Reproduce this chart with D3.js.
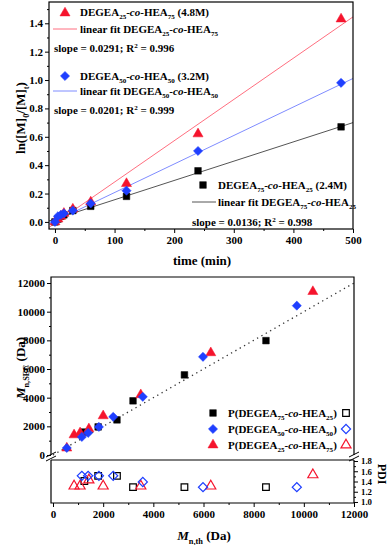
<!DOCTYPE html>
<html>
<head>
<meta charset="utf-8">
<title>Kinetics and molecular weight</title>
<script src="https://d3js.org/d3.v7.min.js"></script>
<style>
body { margin: 0; background: #fff; }
svg text { font-family: "Liberation Serif", "Times New Roman", serif; font-weight: bold; fill: #000; }
</style>
</head>
<body>
<script>
// ---- top chart data: ln([M]0/[M]t) vs time
var times = [0, 5, 10, 15, 30, 60, 120, 240, 480];
var lnRed = [0, 0.02, 0.04, 0.06, 0.09, 0.14, 0.27, 0.62, 1.43];
var lnBlue = [0, 0.04, 0.05, 0.06, 0.08, 0.13, 0.22, 0.50, 0.98];
var lnBlack = [0, 0.02, 0.04, 0.05, 0.08, 0.11, 0.18, 0.36, 0.67];
// fit lines (per minute) and their intercepts
var fitSlope = [0.00291, 0.00201, 0.00136];
var fitIntercept = [-0.01, 0.006, 0.02];
var slopeText = ["0.0291", "0.0201", "0.0136"];
var r2Text = ["0.996", "0.999", "0.998"];
var timeTicks = [0, 100, 200, 300, 400, 500];
var lnTicks = [0, 0.2, 0.4, 0.6, 0.8, 1.0, 1.2, 1.4];

// ---- bottom chart data: Mn,SEC and PDI vs Mn,th
var thBlack = [1250, 1800, 2550, 3190, 5240, 8490];
var secBlack = [1600, 1960, 2450, 3780, 5590, 7980];
var pdiBlack = [1.41, 1.51, 1.51, 1.29, 1.29, 1.29];
var thBlue = [550, 1150, 1400, 1830, 2400, 3580, 5980, 9720];
var secBlue = [490, 1260, 1540, 1960, 2660, 4060, 6850, 10420];
var pdiBlue = [null, 1.51, 1.51, 1.51, 1.51, 1.39, 1.29, 1.29];
var thRed = [550, 840, 1080, 1430, 2000, 3500, 6290, 10360];
var secRed = [480, 1400, 1540, 1820, 2730, 4200, 7130, 11400];
var pdiRed = [null, 1.31, 1.31, 1.43, 1.31, 1.31, 1.31, 1.53];
var mnTicks = [0, 2000, 4000, 6000, 8000, 10000, 12000];
var pdiTicks = [1.0, 1.2, 1.4, 1.6, 1.8];

var red = "#f5142d", blue = "#1f3fff";

var svg = d3.select("body").append("svg")
  .attr("width", 391).attr("height", 545);

// text with sub/superscripts and italics
function rich(sel, x, y, parts, size) {
  var t = sel.append("text").attr("x", x).attr("y", y).style("font-size", size + "px");
  var shift = 0;
  parts.forEach(function(p) {
    var s = t.append("tspan").text(p[0]);
    var want = p[1] == "sub" ? size * 0.3 : (p[1] == "sup" ? -size * 0.4 : 0);
    s.attr("dy", want - shift);
    shift = want;
    if (p[1] == "sub" || p[1] == "sup") s.style("font-size", (size * 0.64) + "px");
    if (p[1] == "i") s.style("font-style", "italic");
  });
  return t;
}

var sym = {
  tri: d3.symbol().type(d3.symbolTriangle).size(44)(),
  dia: d3.symbol().type(d3.symbolSquare).size(42)(),
  sq: d3.symbol().type(d3.symbolSquare).size(44)()
};

function marker(g, x, y, kind, color, open) {
  g.append("path")
    .attr("d", sym[kind])
    .attr("transform", "translate(" + x + "," + y + ")" + (kind == "dia" ? " rotate(45)" : ""))
    .attr("fill", open ? "none" : color)
    .attr("stroke", color)
    .attr("stroke-width", open ? 1.2 : 0.5);
}

function styleAxis(g, size) {
  g.select(".domain").remove();
  g.selectAll("line").attr("stroke", "#000");
  g.selectAll("text").style("font-size", (size || 11) + "px").style("font-family", '"Liberation Serif", serif').style("font-weight", "bold");
}

function addAxis(parent, axis, tr, size) {
  return parent.append("g").attr("transform", tr).call(axis).call(styleAxis, size);
}

// ================= top chart =================
var xT = d3.scaleLinear().domain([-10, 500]).range([49, 353]);
var yT = d3.scaleLinear().domain([-0.05, 1.55]).range([229, 2]);

svg.append("clipPath").attr("id", "clipT").append("rect")
  .attr("x", 49).attr("y", 2).attr("width", 304).attr("height", 227);

var topG = svg.append("g");

addAxis(topG, d3.axisBottom(xT).tickValues(timeTicks).tickSize(4).tickPadding(3).tickFormat(d3.format("d")), "translate(0,229)");
addAxis(topG, d3.axisBottom(xT).tickValues([50, 150, 250, 350, 450]).tickSize(2).tickFormat(""), "translate(0,229)");
addAxis(topG, d3.axisLeft(yT).tickValues(lnTicks).tickSize(4).tickPadding(2).tickFormat(d3.format(".1f")), "translate(49,0)");
addAxis(topG, d3.axisLeft(yT).tickValues([0.1, 0.3, 0.5, 0.7, 0.9, 1.1, 1.3, 1.5]).tickSize(2).tickFormat(""), "translate(49,0)");

var fitColors = ["#ff6f80", "#7f8cff", "#555"];
var fits = topG.append("g").attr("clip-path", "url(#clipT)");
fitSlope.forEach(function(s, i) {
  fits.append("line")
    .attr("x1", xT(-10)).attr("y1", yT(fitIntercept[i] + s * -10))
    .attr("x2", xT(500)).attr("y2", yT(fitIntercept[i] + s * 500))
    .attr("stroke", fitColors[i]).attr("stroke-width", 1);
});

var ptsT = topG.append("g");
times.forEach(function(t, i) { marker(ptsT, xT(t), yT(lnBlack[i]), "sq", "#000"); });
times.forEach(function(t, i) { marker(ptsT, xT(t), yT(lnRed[i]), "tri", red); });
times.forEach(function(t, i) { marker(ptsT, xT(t), yT(lnBlue[i]), "dia", blue); });

topG.append("rect").attr("x", 49).attr("y", 2).attr("width", 304).attr("height", 227)
  .attr("fill", "none").attr("stroke", "#000").attr("stroke-width", 1.2);

// legend (top)
var lg = topG.append("g");
marker(lg, 65, 13, "tri", red);
rich(lg, 80, 16, [["DEGEA"], ["25", "sub"], ["-"], ["co", "i"], ["-HEA"], ["75", "sub"], [" (4.8M)"]], 11);
lg.append("line").attr("x1", 53).attr("x2", 77).attr("y1", 29).attr("y2", 29).attr("stroke", fitColors[0]);
rich(lg, 80, 33, [["linear fit DEGEA"], ["25", "sub"], ["-"], ["co", "i"], ["-HEA"], ["75", "sub"]], 11);
rich(lg, 54, 52, [["slope = " + slopeText[0] + "; R"], ["2", "sup"], [" = " + r2Text[0]]], 11);

marker(lg, 65, 76, "dia", blue);
rich(lg, 80, 80, [["DEGEA"], ["50", "sub"], ["-"], ["co", "i"], ["-HEA"], ["50", "sub"], [" (3.2M)"]], 11);
lg.append("line").attr("x1", 53).attr("x2", 77).attr("y1", 91).attr("y2", 91).attr("stroke", fitColors[1]);
rich(lg, 80, 95, [["linear fit DEGEA"], ["50", "sub"], ["-"], ["co", "i"], ["-HEA"], ["50", "sub"]], 11);
rich(lg, 54, 114, [["slope = " + slopeText[1] + "; R"], ["2", "sup"], [" = " + r2Text[1]]], 11);

marker(lg, 203, 185, "sq", "#000");
rich(lg, 218, 189, [["DEGEA"], ["75", "sub"], ["-"], ["co", "i"], ["-HEA"], ["25", "sub"], [" (2.4M)"]], 11);
lg.append("line").attr("x1", 192).attr("x2", 216).attr("y1", 202).attr("y2", 202).attr("stroke", fitColors[2]);
rich(lg, 218, 206, [["linear fit DEGEA"], ["75", "sub"], ["-"], ["co", "i"], ["-HEA"], ["25", "sub"]], 11);
rich(lg, 192, 226, [["slope = " + slopeText[2] + "; R"], ["2", "sup"], [" = " + r2Text[2]]], 11);

// axis titles (top)
topG.append("text").attr("x", 202).attr("y", 265).attr("text-anchor", "middle")
  .style("font-size", "13px").text("time (min)");
rich(topG.append("g").attr("transform", "translate(25,118) rotate(-90)"), 0, 0,
  [["ln([M]"], ["0", "sub"], ["/[M]"], ["t", "sub"], [")"]], 13).attr("text-anchor", "middle");

// ================= bottom chart =================
var xB = d3.scaleLinear().domain([-80, 12000]).range([51, 354]);
var yB = d3.scaleLinear().domain([-140, 12420]).range([457, 277]);
var yP = d3.scaleLinear().domain([0.98, 1.82]).range([503, 460]);

svg.append("clipPath").attr("id", "clipB").append("rect")
  .attr("x", 51).attr("y", 277).attr("width", 303).attr("height", 180);

var botG = svg.append("g");

addAxis(botG, d3.axisBottom(xB).tickValues(mnTicks).tickSize(4).tickPadding(3).tickFormat(d3.format("d")), "translate(0,503)");
addAxis(botG, d3.axisBottom(xB).tickValues([1000, 3000, 5000, 7000, 9000, 11000]).tickSize(2).tickFormat(""), "translate(0,503)");
addAxis(botG, d3.axisLeft(yB).tickValues(mnTicks).tickSize(4).tickPadding(2).tickFormat(d3.format("d")), "translate(51,0)");
addAxis(botG, d3.axisLeft(yB).tickValues([1000, 3000, 5000, 7000, 9000, 11000]).tickSize(2).tickFormat(""), "translate(51,0)");
addAxis(botG, d3.axisRight(yP).tickValues(pdiTicks).tickSize(4).tickPadding(3).tickFormat(d3.format(".1f")), "translate(354,0)", 8.8);
addAxis(botG, d3.axisRight(yP).tickValues([1.1, 1.3, 1.5, 1.7]).tickSize(2).tickFormat(""), "translate(354,0)");

// theory line Mn,SEC = Mn,th
botG.append("g").attr("clip-path", "url(#clipB)").append("line")
  .attr("x1", xB(0)).attr("y1", yB(0)).attr("x2", xB(12000)).attr("y2", yB(12000))
  .attr("stroke", "#333").attr("stroke-width", 1.3).attr("stroke-dasharray", "1.3,3.7");

var ptsB = botG.append("g");
thBlack.forEach(function(t, i) { marker(ptsB, xB(t), yB(secBlack[i]), "sq", "#000"); });
thRed.forEach(function(t, i) { marker(ptsB, xB(t), yB(secRed[i]), "tri", red); });
thBlue.forEach(function(t, i) { marker(ptsB, xB(t), yB(secBlue[i]), "dia", blue); });
thBlack.forEach(function(t, i) { if (pdiBlack[i] != null) marker(ptsB, xB(t), yP(pdiBlack[i]), "sq", "#000", true); });
thRed.forEach(function(t, i) { if (pdiRed[i] != null) marker(ptsB, xB(t), yP(pdiRed[i]), "tri", red, true); });
thBlue.forEach(function(t, i) { if (pdiBlue[i] != null) marker(ptsB, xB(t), yP(pdiBlue[i]), "dia", blue, true); });

// frame with axis break
var fr = botG.append("g").attr("stroke", "#000").attr("stroke-width", 1.2).attr("fill", "none");
fr.append("path").attr("d", "M51,455V277H354V455");
fr.append("path").attr("d", "M51,460V503H354V460M51,460H354");
fr.append("path").attr("stroke-width", 1).attr("d", "M46,457L56,452M46,461L56,456M349,457L359,452M349,461L359,456");

// legend (bottom)
var lb = botG.append("g");
var legRows = [["75", "25", "sq", "#000", 413], ["50", "50", "dia", blue, 429], ["25", "75", "tri", red, 445]];
legRows.forEach(function(r) {
  marker(lb, 213, r[4], r[2], r[3]);
  rich(lb, 228, r[4] + 4, [["P(DEGEA"], [r[0], "sub"], ["-"], ["co", "i"], ["-HEA"], [r[1], "sub"], [")"]], 11);
  marker(lb, 346, r[4], r[2], r[3], true);
});

// axis titles (bottom)
rich(botG, 204, 540, [["M", "i"], ["n,th", "sub"], [" (Da)"]], 13).attr("text-anchor", "middle");
rich(botG.append("g").attr("transform", "translate(25,368) rotate(-90)"), 0, 0,
  [["M", "i"], ["n,SEC", "sub"], [" (Da)"]], 13).attr("text-anchor", "middle");
botG.append("text").attr("transform", "translate(378,474) rotate(90)").attr("text-anchor", "middle")
  .style("font-size", "12px").text("PDI");
</script>
</body>
</html>
